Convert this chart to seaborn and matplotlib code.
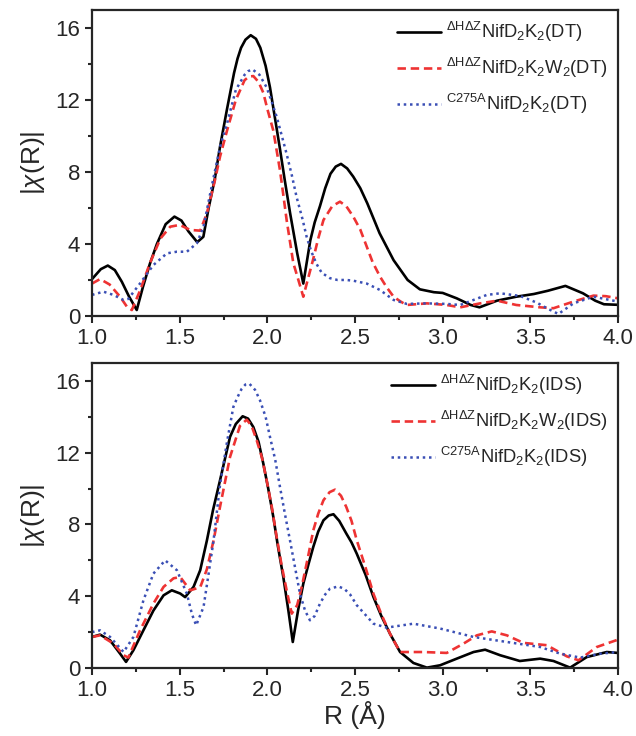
import numpy as np
import pandas as pd
import seaborn as sns
from matplotlib import pyplot as plt
from matplotlib.ticker import MultipleLocator

# --- datos (R en Angstrom, |chi(R)|) ---
# panel superior (DT)
r_dt_wt = [1.00, 1.05, 1.09, 1.13, 1.17, 1.21, 1.255, 1.29, 1.33, 1.37, 1.42, 1.47, 1.51, 1.55, 1.60,
           1.635, 1.665, 1.70, 1.73, 1.77, 1.81, 1.83, 1.85, 1.875, 1.905, 1.935, 1.96, 1.99, 2.015,
           2.04, 2.07, 2.10, 2.13, 2.17, 2.205, 2.225, 2.245, 2.27, 2.30, 2.33, 2.36, 2.39, 2.42,
           2.455, 2.49, 2.53, 2.57, 2.64, 2.72, 2.80, 2.87, 2.95, 3.00, 3.08, 3.16, 3.21,
           3.31, 3.42, 3.52, 3.60, 3.70, 3.80, 3.87, 3.92, 4.00]
chi_dt_wt = [2.05, 2.6, 2.8, 2.55, 1.9, 1.1, 0.33, 1.6, 2.9, 4.0, 5.1, 5.52, 5.3, 4.7, 4.1,
             4.4, 6.0, 7.6, 9.4, 11.5, 13.5, 14.3, 14.9, 15.35, 15.6, 15.4, 14.9, 13.9, 12.7,
             11.2, 9.4, 7.5, 5.7, 3.5, 1.8, 3.0, 4.2, 5.2, 6.1, 7.1, 7.9, 8.3, 8.45,
             8.2, 7.74, 7.1, 6.26, 4.6, 3.1, 2.0, 1.48, 1.32, 1.28, 0.98, 0.61, 0.48,
             0.85, 1.07, 1.22, 1.4, 1.67, 1.26, 0.85, 0.65, 0.62]

r_dt_w2 = [1.00, 1.046, 1.10, 1.16, 1.20, 1.227, 1.275, 1.33, 1.39, 1.446, 1.50, 1.56, 1.617, 1.655,
           1.70, 1.73, 1.77, 1.82, 1.87, 1.895, 1.92, 1.95, 1.977, 2.00, 2.034, 2.072, 2.09, 2.11,
           2.148, 2.18, 2.205, 2.23, 2.26, 2.29, 2.32, 2.37, 2.414, 2.45, 2.49, 2.53, 2.567, 2.60,
           2.643, 2.68, 2.72, 2.76, 2.795, 2.91, 3.023, 3.10, 3.214, 3.31, 3.42, 3.556,
           3.632, 3.746, 3.86, 3.93, 4.00]
chi_dt_w2 = [1.8, 2.05, 1.75, 1.07, 0.5, 0.33, 1.44, 2.93, 4.3, 4.96, 5.06, 4.78, 4.74, 5.7,
             7.5, 8.85, 10.3, 12.0, 13.1, 13.3, 13.33, 13.0, 12.4, 11.5, 10.3, 8.1, 6.8, 5.33,
             2.94, 1.9, 1.07, 2.0, 3.1, 4.3, 5.33, 6.1, 6.35, 6.1, 5.52, 4.8, 3.85, 3.0,
             2.18, 1.6, 1.07, 0.8, 0.61, 0.70, 0.61, 0.48, 0.70, 0.85, 0.61, 0.48,
             0.43, 0.80, 1.13, 1.1, 0.98]

r_dt_c275 = [1.00, 1.065, 1.122, 1.18, 1.207, 1.274, 1.35, 1.427, 1.484, 1.541, 1.598, 1.636, 1.674,
             1.73, 1.77, 1.82, 1.87, 1.89, 1.915, 1.955, 1.996, 2.025, 2.053, 2.08, 2.11, 2.14,
             2.167, 2.20, 2.224, 2.25, 2.28, 2.31, 2.357, 2.40, 2.45, 2.49, 2.567, 2.643, 2.72,
             2.795, 2.909, 3.023, 3.10, 3.176, 3.252, 3.328, 3.442, 3.537, 3.60, 3.66, 3.746,
             3.86, 4.00]
chi_dt_c275 = [1.17, 1.35, 1.17, 0.89, 0.95, 1.81, 2.83, 3.48, 3.57, 3.57, 4.04, 4.96, 6.8,
               9.4, 10.7, 12.56, 13.4, 13.6, 13.7, 13.4, 12.7, 11.9, 11.07, 10.1, 9.0, 7.8,
               6.6, 5.4, 4.4, 3.6, 2.9, 2.4, 2.1, 2.0, 2.0, 1.96, 1.8, 1.44, 0.89,
               0.67, 0.70, 0.67, 0.61, 0.89, 1.17, 1.26, 1.11, 0.74, 0.4, 0.11, 0.70,
               1.07, 0.8]

# panel inferior (IDS)
r_ids_wt = [1.00, 1.046, 1.103, 1.16, 1.194, 1.236, 1.293, 1.35, 1.408, 1.455, 1.503, 1.531, 1.579,
            1.617, 1.655, 1.69, 1.73, 1.787, 1.82, 1.859, 1.89, 1.92, 1.95, 1.977, 2.005, 2.034,
            2.06, 2.091, 2.12, 2.145, 2.175, 2.205, 2.235, 2.262, 2.29, 2.32, 2.35, 2.377, 2.41,
            2.45, 2.48, 2.51, 2.56, 2.605, 2.65, 2.70, 2.757, 2.833, 2.91, 2.985, 3.08, 3.176,
            3.242, 3.328, 3.44, 3.556, 3.632, 3.727, 3.822, 3.936, 4.00]
chi_ids_wt = [1.73, 1.86, 1.54, 0.8, 0.34, 0.99, 2.1, 3.2, 4.05, 4.33, 4.15, 3.95, 4.52,
              5.45, 7.1, 8.8, 10.46, 12.88, 13.6, 14.03, 13.9, 13.43, 12.6, 11.39, 10.0, 8.42,
              6.8, 5.07, 3.2, 1.45, 3.2, 4.7, 5.8, 6.75, 7.6, 8.23, 8.5, 8.57, 8.2,
              7.5, 7.0, 6.37, 5.2, 3.96, 2.9, 1.9, 0.89, 0.28, 0.02, 0.15, 0.52, 0.89,
              1.02, 0.71, 0.39, 0.52, 0.39, 0.02, 0.61, 0.89, 0.84]

r_ids_w2 = [1.00, 1.046, 1.122, 1.18, 1.207, 1.274, 1.35, 1.408, 1.465, 1.503, 1.56, 1.617, 1.655,
            1.693, 1.73, 1.787, 1.844, 1.882, 1.91, 1.939, 1.97, 1.996, 2.025, 2.053, 2.08, 2.11,
            2.139, 2.17, 2.196, 2.23, 2.262, 2.29, 2.32, 2.355, 2.386, 2.42, 2.45, 2.48, 2.51,
            2.56, 2.605, 2.65, 2.70, 2.757, 2.89, 3.023, 3.119, 3.195, 3.28, 3.366, 3.46,
            3.594, 3.708, 3.775, 3.879, 4.00]
chi_ids_w2 = [1.73, 1.82, 1.36, 0.71, 0.58, 2.1, 3.59, 4.52, 5.0, 5.07, 4.33, 4.5, 5.5,
              7.1, 8.98, 11.76, 13.5, 13.84, 13.5, 12.7, 11.7, 10.46, 9.0, 7.3, 5.8, 4.33,
              3.03, 3.5, 4.52, 6.1, 7.67, 8.6, 9.35, 9.8, 9.94, 9.6, 8.98, 8.2, 7.12,
              5.6, 4.14, 3.0, 1.9, 0.89, 0.89, 0.84, 1.36, 1.82, 2.04, 1.82, 1.4,
              1.27, 0.65, 0.43, 1.17, 1.58]

r_ids_c275 = [1.00, 1.046, 1.103, 1.18, 1.236, 1.293, 1.35, 1.417, 1.484, 1.541, 1.57, 1.594, 1.636,
              1.665, 1.693, 1.73, 1.77, 1.806, 1.83, 1.854, 1.875, 1.897, 1.93, 1.958, 1.99, 2.015,
              2.045, 2.072, 2.10, 2.129, 2.16, 2.186, 2.215, 2.243, 2.27, 2.30, 2.33, 2.357, 2.405,
              2.44, 2.472, 2.51, 2.605, 2.68, 2.833, 2.985, 3.176, 3.366, 3.556, 3.67, 3.784,
              3.90, 4.00]
chi_ids_c275 = [2.0, 2.1, 1.73, 0.89, 1.73, 3.77, 5.26, 6.0, 5.45, 4.14, 3.0, 2.38, 3.4,
                5.26, 7.1, 10.2, 12.6, 14.55, 15.1, 15.57, 15.8, 15.85, 15.5, 14.92, 14.0, 12.88,
                11.6, 10.09, 8.6, 7.12, 5.5, 4.14, 3.2, 2.66, 2.9, 3.59, 4.1, 4.42, 4.55,
                4.4, 4.1, 3.5, 2.47, 2.25, 2.47, 2.2, 1.73, 1.45, 1.17, 0.8, 0.58,
                0.8, 0.89]

labels_dt = [r'$^{\Delta H\Delta Z}$NifD$_2$K$_2$(DT)',
             r'$^{\Delta H\Delta Z}$NifD$_2$K$_2$W$_2$(DT)',
             r'$^{C275A}$NifD$_2$K$_2$(DT)']
labels_ids = [r'$^{\Delta H\Delta Z}$NifD$_2$K$_2$(IDS)',
              r'$^{\Delta H\Delta Z}$NifD$_2$K$_2$W$_2$(IDS)',
              r'$^{C275A}$NifD$_2$K$_2$(IDS)']

sns.set_style('ticks')
plt.rcParams['font.family'] = ['Liberation Sans', 'DejaVu Sans']
plt.rcParams['mathtext.fontset'] = 'custom'
plt.rcParams['mathtext.rm'] = 'Liberation Sans'
plt.rcParams['mathtext.it'] = 'Liberation Sans:italic'
plt.rcParams['mathtext.default'] = 'regular'

colors = ['black', '#ee3333', '#3a4fb5']
styles = ['-', (0, (3.2, 1.8)), (0, (1, 1.5))]
widths = [1.9, 1.9, 1.8]

fig = plt.figure(figsize=(6.36, 7.36), dpi=100)
ax1 = fig.add_axes([0.1447, 0.5707, 0.827, 0.4157])
ax2 = fig.add_axes([0.1447, 0.0924, 0.827, 0.4144])

panels = [
    (ax1, [(r_dt_wt, chi_dt_wt), (r_dt_w2, chi_dt_w2), (r_dt_c275, chi_dt_c275)], labels_dt),
    (ax2, [(r_ids_wt, chi_ids_wt), (r_ids_w2, chi_ids_w2), (r_ids_c275, chi_ids_c275)], labels_ids),
]

for ax, series, labels in panels:
    for (r, chi), lab, c, ls, lw in zip(series, labels, colors, styles, widths):
        df = pd.DataFrame({'R': r, 'chi': chi})
        sns.lineplot(data=df, x='R', y='chi', ax=ax, color=c, linestyle=ls, lw=lw,
                     label=lab, sort=False, estimator=None)
    ax.set_xlim(1.0, 4.0)
    ax.set_ylim(0, 17)
    ax.xaxis.set_major_locator(MultipleLocator(0.5))
    ax.xaxis.set_minor_locator(MultipleLocator(0.25))
    ax.yaxis.set_major_locator(MultipleLocator(4))
    ax.yaxis.set_minor_locator(MultipleLocator(2))
    ax.xaxis.set_major_formatter(plt.FormatStrFormatter('%.1f'))
    ax.tick_params(which='major', direction='out', length=5, width=1.5, labelsize=16,
                   top=False, right=False)
    ax.tick_params(which='minor', direction='out', length=3, width=1.5, top=False, right=False)
    for sp in ax.spines.values():
        sp.set_linewidth(1.6)
        sp.set_visible(True)
    ax.set_ylabel(r'|$\mathit{\chi}$(R)|', fontsize=19, labelpad=6)
    ax.set_xlabel('')
    ax.legend(loc='upper right', frameon=False, fontsize=13.2, handlelength=2.4,
              handletextpad=0.3, labelspacing=0.65, borderaxespad=0.15,
              bbox_to_anchor=(1.0, 1.0))

ax2.set_xlabel('R (Å)', fontsize=19, labelpad=0)

fig.savefig('out.png', dpi=100)
